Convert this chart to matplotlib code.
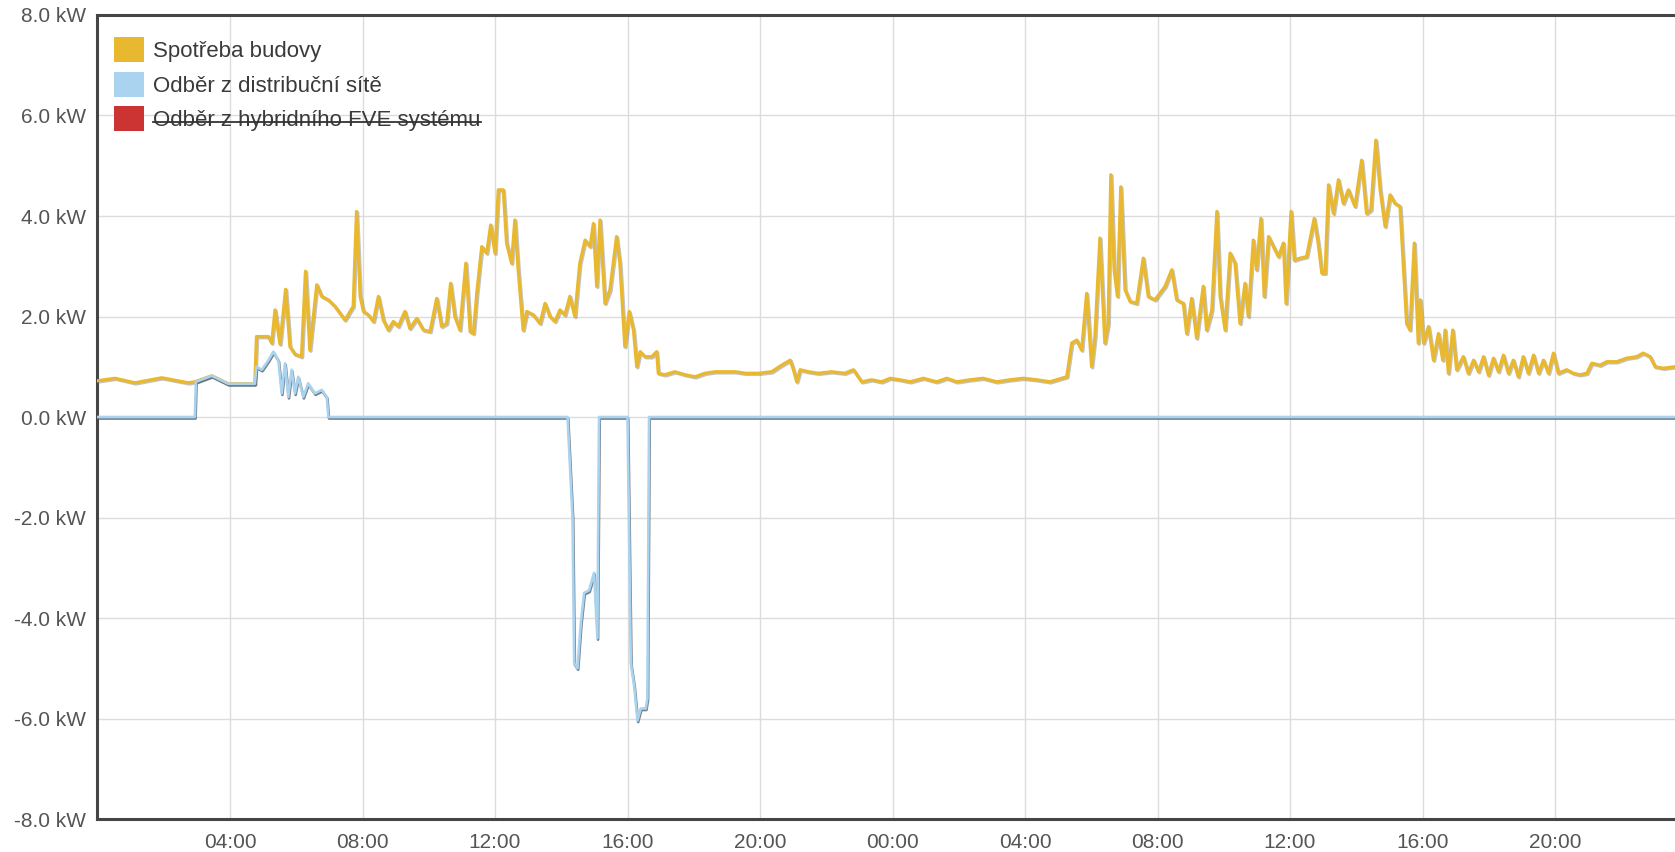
import matplotlib
matplotlib.use("Agg")
import matplotlib.pyplot as plt
from matplotlib.patches import Patch
from matplotlib.lines import Line2D
import matplotlib.patheffects as pe

# hours since midnight of day 1, kW
spotreba_h = [0.0, 0.53, 1.13, 1.94, 2.74, 2.94, 3.45, 3.95, 4.75, 4.80, 5.16, 5.26, 5.36, 5.51,
              5.68, 5.81, 5.96, 6.16, 6.28, 6.41, 6.62, 6.77, 6.97, 7.17, 7.47, 7.72, 7.82, 7.93,
              8.03, 8.18, 8.33, 8.48, 8.63, 8.78, 8.93, 9.08, 9.28, 9.43, 9.64, 9.84, 10.04, 10.24,
              10.39, 10.54, 10.66, 10.79, 10.94, 11.12, 11.25, 11.35, 11.45, 11.60, 11.75, 11.87,
              12.00, 12.10, 12.25, 12.35, 12.50, 12.60, 12.70, 12.85, 12.96, 13.16, 13.36, 13.51,
              13.66, 13.81, 13.96, 14.11, 14.26, 14.41, 14.56, 14.72, 14.87, 14.97, 15.07, 15.17,
              15.32, 15.47, 15.67, 15.77, 15.92, 16.05, 16.18, 16.28, 16.38, 16.53, 16.73, 16.88,
              16.93, 17.13, 17.43, 17.74, 18.04, 18.34, 18.64, 18.94, 19.25, 19.55, 19.95, 20.35,
              20.65, 20.91, 21.01, 21.11, 21.21, 21.46, 21.76, 22.16, 22.56, 22.82, 23.07, 23.37,
              23.67, 23.93, 24.23, 24.53, 24.93, 25.33, 25.64, 25.94, 26.34, 26.74, 27.14, 27.55,
              27.95, 28.35, 28.75, 29.26, 29.41, 29.56, 29.71, 29.86, 30.01, 30.11, 30.26, 30.41,
              30.51, 30.59, 30.69, 30.79, 30.89, 31.02, 31.17, 31.37, 31.57, 31.72, 31.92, 32.23,
              32.43, 32.58, 32.78, 32.88, 33.03, 33.18, 33.38, 33.48, 33.64, 33.79, 33.89, 34.04,
              34.19, 34.34, 34.49, 34.64, 34.74, 34.89, 34.99, 35.12, 35.22, 35.35, 35.50, 35.65,
              35.80, 35.88, 36.03, 36.13, 36.30, 36.50, 36.73, 36.85, 36.96, 37.06, 37.16, 37.31,
              37.46, 37.61, 37.76, 37.96, 38.16, 38.31, 38.44, 38.59, 38.72, 38.87, 39.02, 39.17,
              39.32, 39.52, 39.62, 39.75, 39.87, 39.93, 40.03, 40.18, 40.33, 40.48, 40.61, 40.68,
              40.78, 40.91, 41.03, 41.23, 41.38, 41.54, 41.69, 41.84, 41.99, 42.14, 42.29, 42.44,
              42.59, 42.74, 42.89, 43.04, 43.19, 43.35, 43.50, 43.65, 43.80, 43.95, 44.10, 44.35,
              44.55, 44.75, 44.96, 45.11, 45.36, 45.56, 45.86, 46.16, 46.46, 46.66, 46.87, 47.02,
              47.27, 47.62]
spotreba_kw = [0.72, 0.77, 0.68, 0.78, 0.68, 0.70, 0.82, 0.66, 0.66, 1.60, 1.60, 1.47, 2.13, 1.45,
               2.54, 1.40, 1.25, 1.20, 2.90, 1.33, 2.63, 2.40, 2.33, 2.20, 1.93, 2.20, 4.09, 2.40,
               2.10, 2.03, 1.90, 2.40, 1.93, 1.73, 1.90, 1.80, 2.10, 1.76, 1.96, 1.73, 1.70, 2.36,
               1.80, 1.86, 2.66, 2.00, 1.73, 3.06, 1.70, 1.66, 2.46, 3.39, 3.26, 3.82,
               3.26, 4.52, 4.52, 3.46, 3.06, 3.92, 2.93, 1.73, 2.10, 2.03, 1.86, 2.26,
               2.00, 1.90, 2.13, 2.03, 2.40, 2.00, 3.06, 3.52, 3.39, 3.85, 2.60, 3.92,
               2.26, 2.53, 3.59, 3.06, 1.40, 2.10, 1.73, 1.00, 1.30, 1.20, 1.20, 1.30,
               0.87, 0.84, 0.90, 0.84, 0.80, 0.87, 0.90, 0.90, 0.90, 0.87, 0.87, 0.90,
               1.03, 1.13, 0.94, 0.70, 0.94, 0.90, 0.87, 0.90, 0.87, 0.94, 0.70, 0.74,
               0.70, 0.77, 0.74, 0.70, 0.77, 0.70, 0.77, 0.70, 0.74, 0.77, 0.70, 0.74,
               0.77, 0.74, 0.70, 0.80, 1.47, 1.53, 1.33, 2.46, 1.00, 1.60, 3.56, 1.47,
               1.86, 4.82, 2.93, 2.40, 4.58, 2.53, 2.30, 2.26, 3.16, 2.40, 2.33, 2.60,
               2.93, 2.33, 2.26, 1.66, 2.36, 1.57, 2.60, 1.73, 2.13, 4.09, 2.40, 1.73,
               3.26, 3.06, 1.86, 2.66, 2.00, 3.52, 2.93, 3.95, 2.40, 3.59, 3.39, 3.19,
               3.46, 2.26, 4.09, 3.12, 3.16, 3.19, 3.95, 3.46, 2.86, 2.86, 4.62, 4.05,
               4.72, 4.25, 4.52, 4.19, 5.11, 4.05, 4.12, 5.51, 4.52, 3.79, 4.42, 4.25,
               4.19, 1.86, 1.73, 3.46, 1.47, 2.33, 1.47, 1.80, 1.13, 1.66, 1.13, 1.73,
               0.87, 1.73, 0.94, 1.20, 0.87, 1.13, 0.90, 1.20, 0.83, 1.17, 0.90, 1.23,
               0.87, 1.13, 0.80, 1.20, 0.87, 1.23, 0.87, 1.13, 0.87, 1.27, 0.87, 0.94,
               0.87, 0.84, 0.87, 1.07, 1.03, 1.10, 1.10, 1.17, 1.20, 1.27, 1.20, 1.00,
               0.97, 1.00]

odber_h = [0.0, 2.94, 2.97, 3.45, 3.95, 4.75, 4.80, 4.96, 5.16, 5.31, 5.46, 5.56, 5.66, 5.76,
           5.86, 5.96, 6.06, 6.21, 6.36, 6.56, 6.77, 6.92, 6.97, 14.19, 14.34, 14.39, 14.49,
           14.59, 14.69, 14.84, 14.99, 15.09, 15.14, 16.00, 16.10, 16.20, 16.30, 16.40, 16.55,
           16.60, 16.65, 47.62]
odber_kw = [0.0, 0.0, 0.70, 0.82, 0.66, 0.66, 1.00, 0.94, 1.13, 1.30, 1.13, 0.47, 1.07, 0.40,
            0.94, 0.47, 0.80, 0.40, 0.67, 0.47, 0.54, 0.40, 0.0, 0.0, -2.0, -4.9, -5.0,
            -4.1, -3.5, -3.45, -3.1, -4.4, 0.0, 0.0, -4.9, -5.35, -6.04, -5.8, -5.8,
            -5.6, 0.0, 0.0]

x_ticks = [4, 8, 12, 16, 20, 24, 28, 32, 36, 40, 44]
x_labels = ["04:00", "08:00", "12:00", "16:00", "20:00", "00:00",
            "04:00", "08:00", "12:00", "16:00", "20:00"]
y_ticks = [-8, -6, -4, -2, 0, 2, 4, 6, 8]
y_labels = ["%.1f kW" % v for v in y_ticks]

series_names = ["Spotřeba budovy", "Odběr z distribuční sítě", "Odběr z hybridního FVE systému"]
series_colors = ["#e8b830", "#a9d3ef", "#cc3333"]

fig = plt.figure(figsize=(16.75, 8.52), dpi=100)
ax = fig.add_axes([0.0582, 0.0387, 0.9418, 0.9437])

shadow_y = [pe.SimpleLineShadow(offset=(0.8, -0.8), shadow_color="#555555", alpha=0.35), pe.Normal()]
shadow_b = [pe.SimpleLineShadow(offset=(0.5, -1.1), shadow_color="#4a5665", alpha=0.75), pe.Normal()]
ax.plot(spotreba_h, spotreba_kw, color=series_colors[0], lw=2.4, zorder=3, path_effects=shadow_y)
ax.plot(odber_h, odber_kw, color=series_colors[1], lw=1.9, zorder=4, path_effects=shadow_b)

ax.set_xlim(0, 47.62)
ax.set_ylim(-8, 8)
ax.set_xticks(x_ticks)
ax.set_xticklabels(x_labels)
ax.set_yticks(y_ticks)
ax.set_yticklabels(y_labels)
ax.tick_params(length=0, labelsize=15, labelcolor="#555555")
ax.tick_params(axis="y", pad=8)
ax.tick_params(axis="x", pad=10)
for lab in ax.get_xticklabels() + ax.get_yticklabels():
    lab.set_family(["Liberation Sans", "DejaVu Sans"])

ax.grid(True, color="#dcdcdc", lw=1)
ax.set_axisbelow(True)
for s in ["left", "top", "bottom"]:
    ax.spines[s].set_color("#454545")
    ax.spines[s].set_linewidth(2.2)
ax.spines["right"].set_visible(False)

handles = [Patch(facecolor=c, edgecolor="none") for c in series_colors]
leg = ax.legend(handles, series_names, loc="upper left", bbox_to_anchor=(-0.002, 0.997),
                frameon=False, handlelength=1.35, handleheight=1.35,
                handletextpad=0.4, labelspacing=0.42,
                prop={"family": ["Liberation Sans", "DejaVu Sans"], "size": 16})
for t in leg.get_texts():
    t.set_color("#3a3a3a")

# hidden series is shown crossed out
fig.canvas.draw()
bb = leg.get_texts()[2].get_window_extent(fig.canvas.get_renderer())
bb = bb.transformed(fig.transFigure.inverted())
ymid = bb.y0 + 0.42 * bb.height
fig.add_artist(Line2D([bb.x0, bb.x1], [ymid, ymid], color="#333333", lw=1.3))

fig.savefig("out.png", dpi=100)
